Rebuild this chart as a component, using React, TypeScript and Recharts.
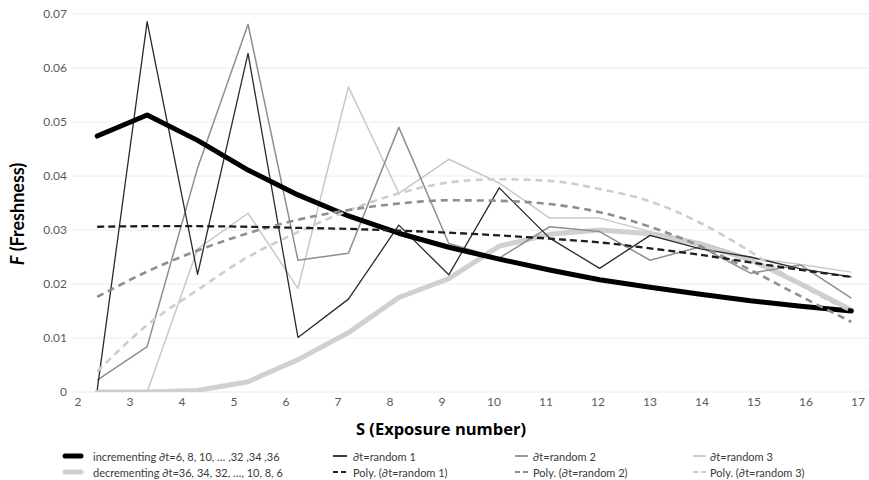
import React from "react";
import { LineChart, Line, XAxis, YAxis, CartesianGrid, Legend } from "recharts";

// exposure positions of the sampled points
const exposure = [2.37, 3.33, 4.3, 5.27, 6.23, 7.2, 8.17, 9.13, 10.1, 11.07, 12.03, 13.0, 13.97, 14.93, 15.9, 16.87];

const incrementing = [0.0474, 0.0513, 0.0466, 0.0411, 0.0365, 0.0326, 0.0294, 0.0268, 0.0246, 0.0226, 0.0208, 0.0194, 0.0181, 0.0169, 0.0159, 0.015];
const decrementing = [0, 0, 0.0003, 0.0019, 0.006, 0.011, 0.0175, 0.021, 0.027, 0.0292, 0.03, 0.0293, 0.0273, 0.0245, 0.02, 0.0152];
const random1 = [0.0004, 0.0686, 0.0218, 0.0627, 0.0101, 0.0172, 0.0309, 0.0217, 0.0378, 0.0285, 0.0229, 0.029, 0.0265, 0.025, 0.0228, 0.0213];
const random2 = [0.0022, 0.0084, 0.0415, 0.0681, 0.0244, 0.0257, 0.049, 0.0275, 0.0248, 0.0306, 0.0297, 0.0244, 0.0269, 0.022, 0.0235, 0.0174];
const random3 = [0, 0, 0.0265, 0.0331, 0.0192, 0.0565, 0.0368, 0.0431, 0.0387, 0.0322, 0.0322, 0.0297, 0.0278, 0.0248, 0.0236, 0.0222];
const poly1 = [0.0306, 0.0307, 0.0307, 0.0306, 0.0304, 0.0302, 0.0299, 0.0295, 0.029, 0.0284, 0.0277, 0.0266, 0.0254, 0.024, 0.0226, 0.0213];
const poly2 = [0.0176, 0.0223, 0.0262, 0.0294, 0.0319, 0.0337, 0.0349, 0.0355, 0.0354, 0.0348, 0.0333, 0.0306, 0.027, 0.0226, 0.0177, 0.013];
const poly3 = [0.0038, 0.0124, 0.0189, 0.025, 0.0296, 0.0336, 0.0368, 0.0388, 0.0394, 0.0391, 0.0376, 0.0353, 0.0313, 0.026, 0.0198, 0.0149];

const xTicks = [2, 3, 4, 5, 6, 7, 8, 9, 10, 11, 12, 13, 14, 15, 16, 17];
const yTicks = [0, 0.01, 0.02, 0.03, 0.04, 0.05, 0.06, 0.07];

const data = exposure.map((s, i) => ({
  s,
  inc: incrementing[i],
  dec: decrementing[i],
  r1: random1[i],
  r2: random2[i],
  r3: random3[i],
  p1: poly1[i],
  p2: poly2[i],
  p3: poly3[i],
}));

const FONT = "Lato, 'Open Sans', sans-serif";
const TITLE_FONT = "'Open Sans', Lato, sans-serif";

type Series = {
  key: string;
  name: string;
  color: string;
  width: number;
  dash?: string;
  smooth?: boolean;
};

// drawing order: first is at the back
const series: Series[] = [
  { key: "dec", name: "decrementing ∂t=36, 34, 32, …, 10, 8, 6", color: "#d0d0d0", width: 5 },
  { key: "r3", name: "∂t=random 3", color: "#c8c8c8", width: 1.5 },
  { key: "r2", name: "∂t=random 2", color: "#8e8e8e", width: 1.5 },
  { key: "r1", name: "∂t=random 1", color: "#2a2a2a", width: 1.3 },
  { key: "inc", name: "incrementing ∂t=6, 8, 10, … ,32 ,34 ,36", color: "#000000", width: 5 },
  { key: "p3", name: "Poly. (∂t=random 3)", color: "#cdcdcd", width: 2.6, dash: "7 5", smooth: true },
  { key: "p2", name: "Poly. (∂t=random 2)", color: "#8e8e8e", width: 2.6, dash: "7 5", smooth: true },
  { key: "p1", name: "Poly. (∂t=random 1)", color: "#1e1e1e", width: 2.3, dash: "7 4", smooth: true },
];

// legend grid: column x of swatch / text, row y
const legendLayout: { key: string; col: number; row: number }[] = [
  { key: "inc", col: 0, row: 0 },
  { key: "r1", col: 1, row: 0 },
  { key: "r2", col: 2, row: 0 },
  { key: "r3", col: 3, row: 0 },
  { key: "dec", col: 0, row: 1 },
  { key: "p1", col: 1, row: 1 },
  { key: "p2", col: 2, row: 1 },
  { key: "p3", col: 3, row: 1 },
];
const swatchX = [63, 333, 515, 693];
const swatchW = [20, 14, 13, 13];
const textX = [93, 353, 533, 710];
const rowY = [24, 40];

function ChartLegend() {
  return (
    <svg width={869} height={48} style={{ display: "block" }}>
      {legendLayout.map(({ key, col, row }) => {
        const s = series.find((x) => x.key === key)!;
        const y = rowY[row];
        const thick = s.width >= 4;
        return (
          <g key={key}>
            <line
              x1={swatchX[col] + (thick ? 2 : 0)}
              x2={swatchX[col] + swatchW[col] - (thick ? 2 : 0)}
              y1={y}
              y2={y}
              stroke={s.color}
              strokeWidth={thick ? 5 : s.dash ? 2 : 1.8}
              strokeLinecap={thick ? "round" : "butt"}
              strokeDasharray={s.dash ? "5 3" : undefined}
            />
            <text
              x={textX[col]}
              y={y}
              dominantBaseline="central"
              fontFamily={FONT}
              fontSize={11}
              fill="#3a3a3a"
            >
              {s.name}
            </text>
          </g>
        );
      })}
    </svg>
  );
}

function YTitle() {
  const x = 17;
  const y = 214;
  return (
    <text
      x={x}
      y={y}
      transform={`rotate(-90 ${x} ${y})`}
      textAnchor="middle"
      dominantBaseline="central"
      fontFamily={FONT}
      fontSize={18}
      fontWeight="bold"
      fill="#000"
    >
      <tspan fontStyle="italic">F</tspan> (Freshness)
    </text>
  );
}

function XTitle() {
  return (
    <text
      x={441}
      y={428}
      textAnchor="middle"
      dominantBaseline="central"
      fontFamily={TITLE_FONT}
      fontSize={16.5}
      fontWeight="bold"
      fill="#000"
    >
      S (Exposure number)
    </text>
  );
}

export default function App() {
  return (
    <div style={{ position: "absolute", left: 0, top: 0, background: "#fff" }}>
      <LineChart
        width={869}
        height={480}
        data={data}
        margin={{ top: 14, right: 0, left: 0, bottom: 0 }}
      >
        <CartesianGrid vertical={false} stroke="#ececec" strokeWidth={1} />
        <XAxis
          dataKey="s"
          type="number"
          domain={[1.885, 17.21]}
          ticks={xTicks}
          allowDataOverflow
          axisLine={false}
          tickLine={false}
          tickSize={0}
          tickMargin={5}
          height={40}
          tick={{ fontFamily: FONT, fontSize: 12, fill: "#595959" }}
          label={<XTitle />}
        />
        <YAxis
          type="number"
          domain={[0, 0.07]}
          ticks={yTicks}
          allowDataOverflow
          axisLine={false}
          tickLine={false}
          tickSize={0}
          tickMargin={5}
          width={72}
          tick={{ fontFamily: FONT, fontSize: 12, fill: "#595959" }}
          label={<YTitle />}
        />
        <Legend
          verticalAlign="bottom"
          content={() => <ChartLegend />}
          wrapperStyle={{ left: 0, width: 869, height: 48 }}
        />
        {series.map((s) => (
          <Line
            key={s.key}
            dataKey={s.key}
            name={s.name}
            type={s.smooth ? "monotone" : "linear"}
            stroke={s.color}
            strokeWidth={s.width}
            strokeDasharray={s.dash}
            strokeLinejoin="round"
            strokeLinecap={s.width >= 4 ? "round" : "butt"}
            dot={false}
            activeDot={false}
            isAnimationActive={false}
          />
        ))}
      </LineChart>
    </div>
  );
}
